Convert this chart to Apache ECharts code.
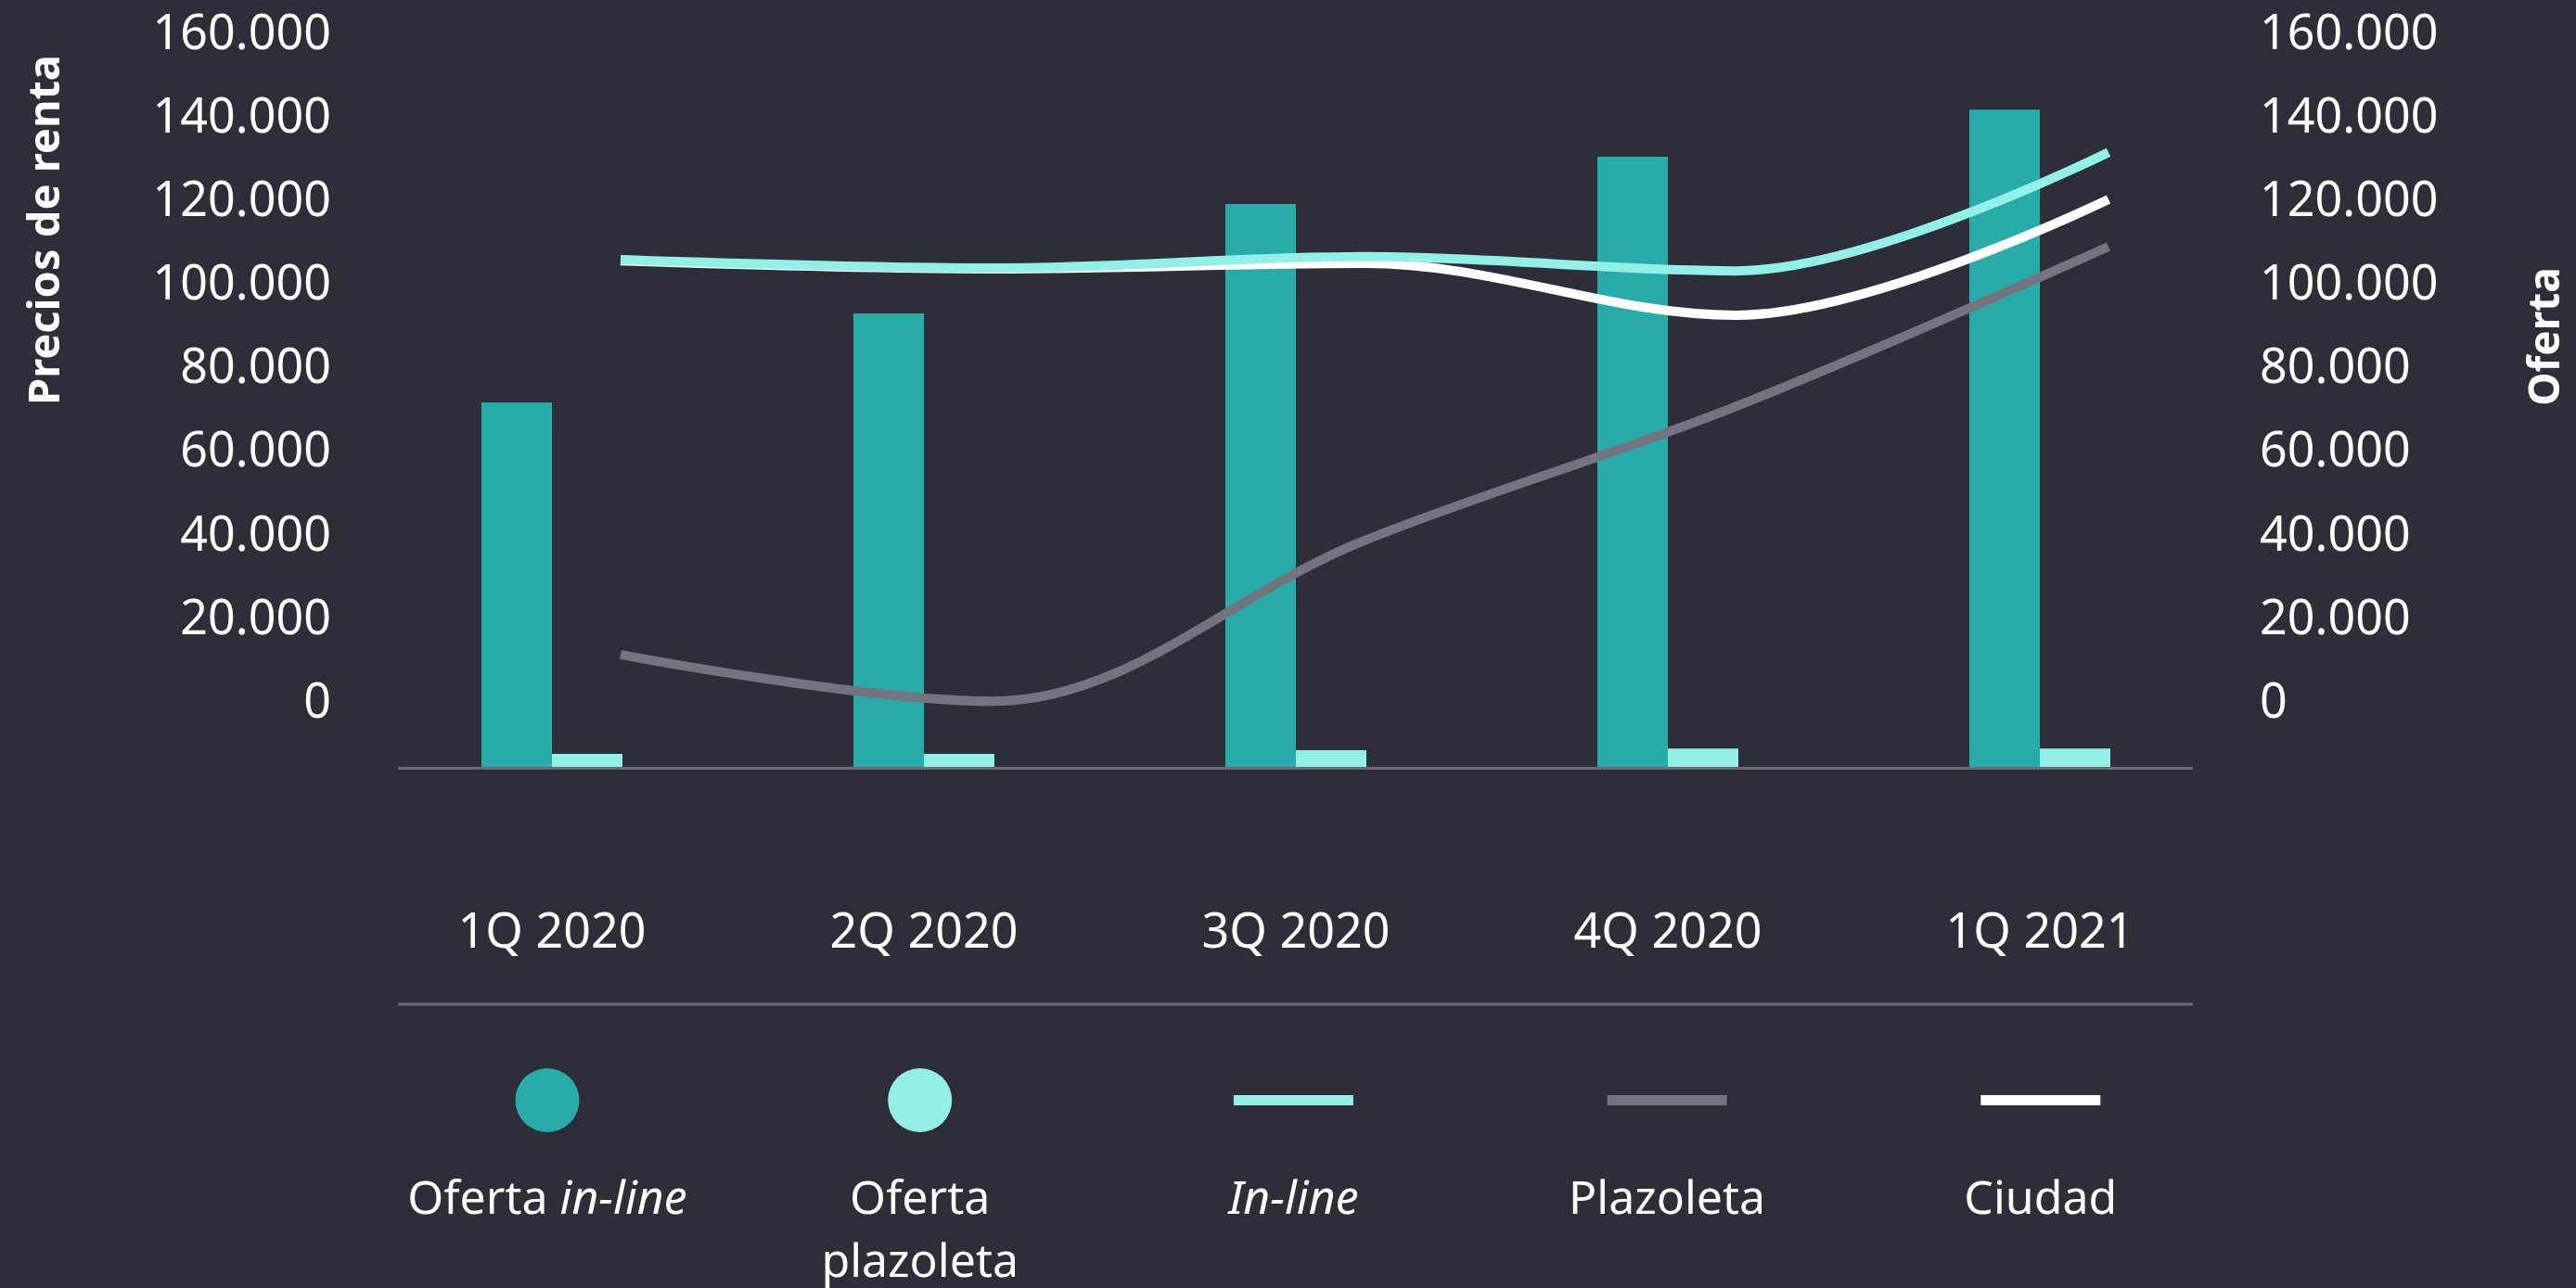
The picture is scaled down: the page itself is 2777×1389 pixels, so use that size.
<!DOCTYPE html>
<html>
<head>
<meta charset="utf-8">
<title>Precios de renta y oferta</title>
<script src="https://cdn.jsdelivr.net/npm/echarts@6.0.0/dist/echarts.min.js"></script>
<style>
  html, body { margin: 0; padding: 0; background: #2e2e38; }
  #chart { width: 2777px; height: 1389px; }
</style>
</head>
<body>
<div id="chart"></div>
<script>
// data
var categories = ['1Q 2020', '2Q 2020', '3Q 2020', '4Q 2020', '1Q 2021'];
var ofertaInline = [87200, 108500, 134700, 146000, 157300];
var ofertaPlazoleta = [3100, 3100, 4000, 4400, 4400];
var precioInline = [106300, 104300, 107000, 103600, 132000];
var precioPlazoleta = [11800, 600, 39100, 71200, 109400];
var precioCiudad = [106000, 104100, 105400, 93000, 120700];
var rentTicks = [0, 20000, 40000, 60000, 80000, 100000, 120000, 140000, 160000];

var FONT = "'Noto Sans', sans-serif";
var TEAL = '#27acaa', MINT = '#93f0e6', GREY = '#747480', WHITE = '#ffffff';
var RULE = '#6b6b77';

function dots(v) {
    return String(v).replace(/\B(?=(\d{3})+(?!\d))/g, '.');
}

// symbol row is padded to a fixed width so every legend item is equally wide
var legendText = {
    'Oferta in-line': '{pc|}{c1|}{pc|}\n{t|Oferta }{i|in-line}\n{t| }',
    'Oferta plazoleta': '{pc|}{c2|}{pc|}\n{t|Oferta}\n{t|plazoleta}',
    'In-line': '{pl|}{l1|}{pl|}\n{i|In-line}\n{t| }',
    'Plazoleta': '{pl|}{l2|}{pl|}\n{t|Plazoleta}\n{t| }',
    'Ciudad': '{pl|}{l3|}{pl|}\n{t|Ciudad}\n{t| }'
};

function sym(w, h, color, r) {
    return { width: w, height: h, borderRadius: r || 0, backgroundColor: color,
        lineHeight: 148, align: 'center', verticalAlign: 'middle' };
}

var chart = echarts.init(document.getElementById('chart'));

var option = {
    backgroundColor: '#2e2e38',
    animation: false,
    grid: [
        // bars
        { left: 394.5, right: 377.5, top: 38, bottom: 562 },
        // lines, shifted one bar width to the right
        { left: 468.5, right: 303.5, top: 38, bottom: 562 }
    ],
    xAxis: [{
        type: 'category',
        gridIndex: 0,
        data: categories,
        axisLine: { show: false },
        axisTick: { show: false },
        axisLabel: {
            color: WHITE, fontFamily: FONT, fontSize: 52, lineHeight: 52, margin: 154
        }
    }, {
        type: 'category',
        gridIndex: 1,
        data: categories,
        show: false
    }],
    yAxis: [{
        // Precios de renta
        type: 'value',
        gridIndex: 1,
        position: 'left',
        min: -15100,
        max: 160000,
        splitLine: { show: false },
        axisLine: { show: false },
        axisTick: { show: false },
        axisLabel: {
            customValues: rentTicks,
            formatter: dots,
            color: WHITE, fontFamily: FONT, fontSize: 52, margin: 111.5
        }
    }, {
        // Oferta
        type: 'value',
        gridIndex: 0,
        position: 'right',
        min: -15100,
        max: 160000,
        splitLine: { show: false },
        axisLine: { show: false },
        axisTick: { show: false },
        axisLabel: {
            customValues: rentTicks,
            formatter: dots,
            color: WHITE, fontFamily: FONT, fontSize: 52, margin: 36.5
        }
    }, {
        // bar scale, baseline on the rule
        type: 'value',
        gridIndex: 0,
        min: 0,
        max: 175100,
        show: false,
        splitLine: { show: false }
    }],
    legend: {
        selectedMode: false,
        left: 395,
        top: 1152,
        padding: 0,
        itemWidth: 0,
        itemHeight: 0,
        itemGap: 16.7,
        data: ['Oferta in-line', 'Oferta plazoleta', 'In-line', 'Plazoleta', 'Ciudad'],
        formatter: function (name) { return legendText[name]; },
        textStyle: {
            color: WHITE,
            fontFamily: FONT,
            fontSize: 50,
            rich: {
                pc: { width: 155.5, height: 69, lineHeight: 148 },
                pl: { width: 125.5, height: 11, lineHeight: 148 },
                c1: sym(69, 69, TEAL, 34.5),
                c2: sym(69, 69, MINT, 34.5),
                l1: sym(129, 11, MINT),
                l2: sym(129, 11, GREY),
                l3: sym(129, 11, WHITE),
                t: { color: WHITE, fontFamily: FONT, fontSize: 50, lineHeight: 68, align: 'center' },
                i: { color: WHITE, fontFamily: FONT, fontSize: 50, lineHeight: 68, align: 'center', fontStyle: 'italic' }
            }
        }
    },
    series: [{
        name: 'Oferta in-line',
        type: 'bar',
        xAxisIndex: 0, yAxisIndex: 2,
        data: ofertaInline,
        barWidth: 76,
        barGap: '0%',
        itemStyle: { color: TEAL }
    }, {
        name: 'Oferta plazoleta',
        type: 'bar',
        xAxisIndex: 0, yAxisIndex: 2,
        data: ofertaPlazoleta,
        barWidth: 76,
        barGap: '0%',
        itemStyle: { color: MINT }
    }, {
        name: 'Plazoleta',
        type: 'line',
        xAxisIndex: 1, yAxisIndex: 0,
        data: precioPlazoleta,
        smooth: 0.35,
        showSymbol: false,
        symbol: 'none',
        lineStyle: { color: GREY, width: 10 },
        itemStyle: { color: GREY }
    }, {
        name: 'Ciudad',
        type: 'line',
        xAxisIndex: 1, yAxisIndex: 0,
        data: precioCiudad,
        smooth: 0.35,
        showSymbol: false,
        symbol: 'none',
        lineStyle: { color: WHITE, width: 10 },
        itemStyle: { color: WHITE }
    }, {
        name: 'In-line',
        type: 'line',
        xAxisIndex: 1, yAxisIndex: 0,
        data: precioInline,
        smooth: 0.35,
        showSymbol: false,
        symbol: 'none',
        lineStyle: { color: MINT, width: 10 },
        itemStyle: { color: MINT }
    }],
    graphic: [{
        type: 'text',
        x: 51, y: 248,
        rotation: Math.PI / 2,
        style: {
            text: 'Precios de renta', fill: WHITE, font: 'bold 47px ' + FONT,
            align: 'center', verticalAlign: 'middle'
        }
    }, {
        type: 'text',
        x: 2746, y: 363,
        rotation: Math.PI / 2,
        style: {
            text: 'Oferta', fill: WHITE, font: 'bold 46px ' + FONT,
            align: 'center', verticalAlign: 'middle'
        }
    }, {
        type: 'line',
        z: 10,
        shape: { x1: 429, y1: 828.5, x2: 2364, y2: 828.5 },
        style: { stroke: RULE, lineWidth: 3 }
    }, {
        type: 'line',
        shape: { x1: 429, y1: 1083, x2: 2364, y2: 1083 },
        style: { stroke: RULE, lineWidth: 3 }
    }]
};

chart.setOption(option);
</script>
</body>
</html>
